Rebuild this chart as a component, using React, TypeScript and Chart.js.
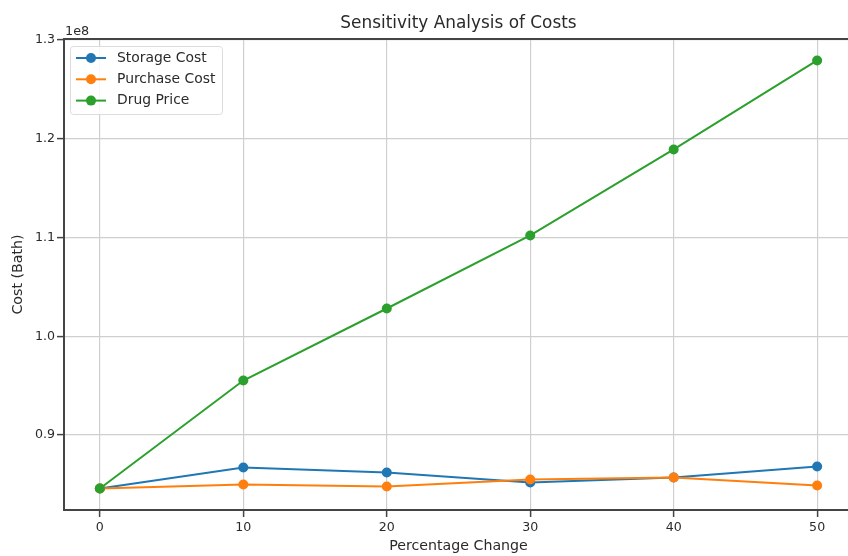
import React, { useEffect, useRef } from "react";
import { Chart, registerables } from "chart.js";

Chart.register(...registerables);

const percentChanges = [0, 10, 20, 30, 40, 50];
const storageCost = [84580000, 86710000, 86200000, 85190000, 85700000, 86810000];
const purchaseCost = [84580000, 84990000, 84780000, 85490000, 85700000, 84890000];
const drugPrice = [84580000, 95520000, 102810000, 110200000, 118910000, 127920000];
const seriesNames = ["Storage Cost", "Purchase Cost", "Drug Price"];
const seriesColors = ["#1f77b4", "#ff7f0e", "#2ca02c"];
const xTicks = [0, 10, 20, 30, 40, 50];
const yTicks = [90000000, 100000000, 110000000, 120000000, 130000000];
const titleText = "Sensitivity Analysis of Costs";
const xLabel = "Percentage Change";
const yLabel = "Cost (Bath)";
const offsetLabel = "1e8";

const FONT = "'DejaVu Sans', sans-serif";
const TEXT = "#2a2a2a";

const extras = {
  id: "extras",
  afterDraw(chart: any) {
    const { ctx, chartArea } = chart;
    const { left, right, top, bottom } = chartArea;
    ctx.save();
    // top & right spines
    ctx.strokeStyle = "#444";
    ctx.lineWidth = 2;
    ctx.beginPath();
    ctx.moveTo(left, top);
    ctx.lineTo(right, top);
    ctx.lineTo(right, bottom);
    ctx.stroke();

    ctx.fillStyle = TEXT;
    // title
    ctx.font = `16.9px ${FONT}`;
    ctx.textAlign = "center";
    ctx.textBaseline = "middle";
    ctx.fillText(titleText, (left + right) / 2, 24);
    // x label
    ctx.font = `14.2px ${FONT}`;
    ctx.fillText(xLabel, (left + right) / 2, 546);
    // y label
    ctx.save();
    ctx.translate(18, (top + bottom) / 2);
    ctx.rotate(-Math.PI / 2);
    ctx.fillText(yLabel, 0, 0);
    ctx.restore();
    // offset label
    ctx.font = `12.8px ${FONT}`;
    ctx.textAlign = "left";
    ctx.textBaseline = "alphabetic";
    ctx.fillText(offsetLabel, left + 1, 35);

    // legend
    const bx = 70.5, by = 46.5, bw = 152, bh = 68, r = 3;
    ctx.beginPath();
    ctx.moveTo(bx + r, by);
    ctx.lineTo(bx + bw - r, by);
    ctx.arcTo(bx + bw, by, bx + bw, by + r, r);
    ctx.lineTo(bx + bw, by + bh - r);
    ctx.arcTo(bx + bw, by + bh, bx + bw - r, by + bh, r);
    ctx.lineTo(bx + r, by + bh);
    ctx.arcTo(bx, by + bh, bx, by + bh - r, r);
    ctx.lineTo(bx, by + r);
    ctx.arcTo(bx, by, bx + r, by, r);
    ctx.closePath();
    ctx.fillStyle = "rgba(255,255,255,0.85)";
    ctx.fill();
    ctx.strokeStyle = "#dcdcdc";
    ctx.lineWidth = 1;
    ctx.stroke();
    seriesNames.forEach((name, i) => {
      const y = 58 + i * 21.3;
      ctx.strokeStyle = seriesColors[i];
      ctx.lineWidth = 2;
      ctx.beginPath();
      ctx.moveTo(76, y);
      ctx.lineTo(106, y);
      ctx.stroke();
      ctx.fillStyle = seriesColors[i];
      ctx.beginPath();
      ctx.arc(91, y, 5, 0, Math.PI * 2);
      ctx.fill();
      ctx.fillStyle = TEXT;
      ctx.font = `13.9px ${FONT}`;
      ctx.textAlign = "left";
      ctx.textBaseline = "middle";
      ctx.fillText(name, 117, y);
    });
    ctx.restore();
  },
};

export default function App() {
  const ref = useRef<HTMLCanvasElement>(null);
  useEffect(() => {
    document.body.style.margin = "0";
    document.body.style.overflow = "hidden";
    const mk = (data: number[], i: number, order: number) => ({
      label: seriesNames[i],
      data: percentChanges.map((x, k) => ({ x, y: data[k] })),
      borderColor: seriesColors[i],
      backgroundColor: seriesColors[i],
      pointBackgroundColor: seriesColors[i],
      pointBorderWidth: 0,
      pointRadius: 5,
      borderWidth: 2,
      tension: 0,
      order,
    });
    const grid = { color: "#cfcfcf", lineWidth: 1.2, tickLength: 7, tickColor: "#444", tickWidth: 1.5 };
    const border = { display: true, color: "#444", width: 2 };
    const chart = new Chart(ref.current!, {
      type: "line",
      data: {
        datasets: [mk(storageCost, 0, 3), mk(purchaseCost, 1, 2), mk(drugPrice, 2, 1)],
      },
      options: {
        animation: false,
        responsive: false,
        devicePixelRatio: 1,
        layout: { padding: { top: 39, right: 7, left: 0, bottom: 0 } },
        plugins: { legend: { display: false }, title: { display: false }, tooltip: { enabled: false } },
        scales: {
          x: {
            type: "linear",
            min: -2.5,
            max: 52.5,
            afterBuildTicks: (s: any) => { s.ticks = xTicks.map((v) => ({ value: v })); },
            afterFit: (s: any) => { s.height = 46; },
            ticks: { font: { family: FONT, size: 12.6 }, color: TEXT, padding: 3, autoSkip: false, maxRotation: 0, callback: (v: any) => String(v) },
            grid,
            border,
          },
          y: {
            type: "linear",
            min: 82410000,
            max: 130090000,
            afterBuildTicks: (s: any) => { s.ticks = yTicks.map((v) => ({ value: v })); },
            afterFit: (s: any) => { s.width = 64; },
            ticks: { font: { family: FONT, size: 12.6 }, color: TEXT, padding: 2, autoSkip: false, callback: (v: any) => (Number(v) / 1e8).toFixed(1) },
            grid,
            border,
          },
        },
      } as any,
      plugins: [extras],
    });
    return () => chart.destroy();
  }, []);
  return (
    <div style={{ position: "fixed", left: 0, top: 0, width: 860, height: 556 }}>
      <canvas ref={ref} width={860} height={556} style={{ display: "block" }} />
    </div>
  );
}
